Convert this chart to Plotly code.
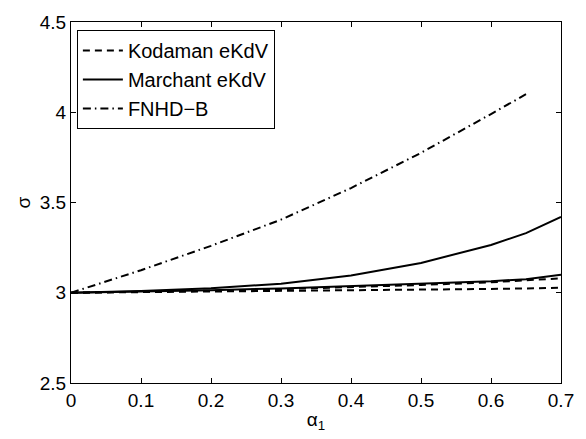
import plotly.graph_objects as go

# Data
x_main = [0, 0.1, 0.2, 0.3, 0.4, 0.5, 0.6, 0.65, 0.7]
marchant_upper = [3.0, 3.01, 3.025, 3.05, 3.095, 3.165, 3.265, 3.33, 3.42]
marchant_lower = [3.0, 3.006, 3.014, 3.024, 3.036, 3.05, 3.064, 3.075, 3.10]
kodaman_upper = [3.0, 3.004, 3.011, 3.02, 3.031, 3.043, 3.058, 3.067, 3.08]
kodaman_lower = [3.0, 3.003, 3.006, 3.01, 3.013, 3.017, 3.021, 3.024, 3.028]

x_fnhd = [0, 0.1, 0.2, 0.3, 0.4, 0.5, 0.6, 0.65]
fnhd_b = [3.0, 3.125, 3.26, 3.405, 3.58, 3.775, 3.99, 4.10]

xticks = [0, 0.1, 0.2, 0.3, 0.4, 0.5, 0.6, 0.7]
yticks = [2.5, 3, 3.5, 4, 4.5]

FONT = "Liberation Sans, Arial, sans-serif"
dash_style = "7px,5px"
dashdot_style = "8px,4px,1.5px,4px"

fig = go.Figure()
fig.add_trace(go.Scatter(x=x_main, y=kodaman_upper, mode="lines", name="Kodaman eKdV",
                         line=dict(color="black", width=2, dash=dash_style), legendgroup="k"))
fig.add_trace(go.Scatter(x=x_main, y=kodaman_lower, mode="lines", name="Kodaman eKdV",
                         line=dict(color="black", width=2, dash=dash_style), legendgroup="k",
                         showlegend=False))
fig.add_trace(go.Scatter(x=x_main, y=marchant_upper, mode="lines", name="Marchant eKdV",
                         line=dict(color="black", width=2), legendgroup="m"))
fig.add_trace(go.Scatter(x=x_main, y=marchant_lower, mode="lines", name="Marchant eKdV",
                         line=dict(color="black", width=2), legendgroup="m", showlegend=False))
fig.add_trace(go.Scatter(x=x_fnhd, y=fnhd_b, mode="lines", name="FNHD\u2212B",
                         line=dict(color="black", width=2, dash=dashdot_style)))

axis_common = dict(showline=True, linecolor="black", linewidth=1, mirror="allticks",
                   ticks="inside", ticklen=5, tickcolor="black", showgrid=False,
                   zeroline=False, tickfont=dict(family=FONT, size=19, color="black"))

fig.update_layout(
    width=586, height=439,
    margin=dict(l=71, r=16, t=19, b=56),
    plot_bgcolor="white", paper_bgcolor="white",
    font=dict(family=FONT, size=19, color="black"),
    xaxis=dict(range=[0, 0.7], tickvals=xticks, ticktext=[f"{v:g}" for v in xticks],
               title=dict(text="\u03b1<sub>1</sub>", standoff=2,
                          font=dict(family=FONT, size=19)), **axis_common),
    yaxis=dict(range=[2.5, 4.5], tickvals=yticks, ticktext=[f"{v:g}" for v in yticks],
               title=dict(text="\u03c3", standoff=4, font=dict(family=FONT, size=19)),
               **axis_common),
    legend=dict(x=0.012, y=0.978, xanchor="left", yanchor="top",
                bordercolor="black", borderwidth=1, bgcolor="white",
                font=dict(family=FONT, size=20), tracegroupgap=0,
                itemwidth=40),
    showlegend=True,
)

fig.write_html("out.html")
